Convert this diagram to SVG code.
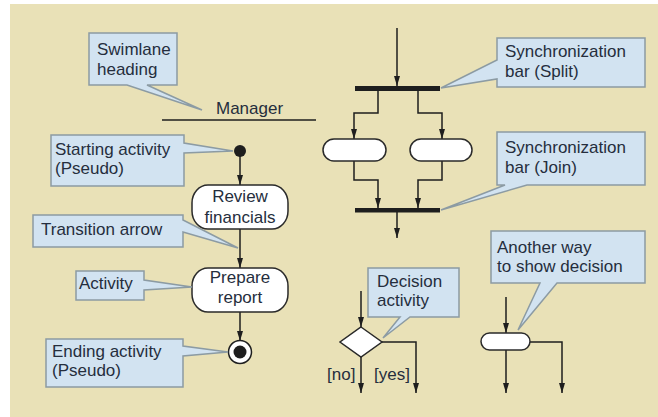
<svg xmlns="http://www.w3.org/2000/svg" width="658" height="417" viewBox="0 0 658 417">
<style>
.bg{fill:#E9E1B7}
.co{fill:#D2E3F1;stroke:#8C9BA3;stroke-width:1.5;stroke-linejoin:miter}
.t{font-family:"Liberation Sans",Arial,sans-serif;font-size:17px;fill:#252E3D}
.tc{text-anchor:middle}
.nd{fill:#FFFFFF;stroke:#2A2A2A;stroke-width:1.5}
.ln{fill:none;stroke:#1E1E1E;stroke-width:1.5}
.bar{fill:#1E1E1E}
</style>
<defs>
<marker id="arr" viewBox="0 0 10 6" refX="10" refY="3" markerWidth="10" markerHeight="6" orient="auto" markerUnits="userSpaceOnUse">
<path d="M0,0 L10,3 L0,6 Z" fill="#1E1E1E"/>
</marker>
</defs>
<rect x="0" y="0" width="658" height="417" fill="#FFFFFF"/>
<rect class="bg" x="10" y="4" width="648" height="413"/>

<g id="swimlane">
<text class="t" x="216" y="114">Manager</text>
<line x1="162" y1="120" x2="316" y2="120" stroke="#1E1E1E" stroke-width="1.5"/>
</g>

<g id="connectors">
<line class="ln" x1="240" y1="156" x2="240" y2="185" marker-end="url(#arr)"/>
<line class="ln" x1="240" y1="229" x2="240" y2="268" marker-end="url(#arr)"/>
<line class="ln" x1="240" y1="312" x2="240" y2="341" marker-end="url(#arr)"/>
<line class="ln" x1="397" y1="28" x2="397" y2="86" marker-end="url(#arr)"/>
<polyline class="ln" points="378,90 378,113 354,113 354,139" marker-end="url(#arr)"/>
<polyline class="ln" points="418,90 418,113 442,113 442,139" marker-end="url(#arr)"/>
<polyline class="ln" points="354,161 354,180 378,180 378,208" marker-end="url(#arr)"/>
<polyline class="ln" points="442,161 442,180 418,180 418,208" marker-end="url(#arr)"/>
<line class="ln" x1="397" y1="212" x2="397" y2="238" marker-end="url(#arr)"/>
<line class="ln" x1="361" y1="291" x2="361" y2="327" marker-end="url(#arr)"/>
<line class="ln" x1="361" y1="357" x2="361" y2="393" marker-end="url(#arr)"/>
<polyline class="ln" points="382,342 416,342 416,393" marker-end="url(#arr)"/>
<line class="ln" x1="506" y1="297" x2="506" y2="333" marker-end="url(#arr)"/>
<line class="ln" x1="506" y1="350" x2="506" y2="393" marker-end="url(#arr)"/>
<polyline class="ln" points="530,342 562,342 562,393" marker-end="url(#arr)"/>
</g>

<g id="start"><circle cx="240" cy="151" r="6" fill="#1E1E1E"/></g>
<g id="review">
<rect class="nd" x="192" y="185" width="96" height="44" rx="16" ry="18"/>
<text class="t tc" x="240" y="202">Review</text>
<text class="t tc" x="240" y="223">financials</text>
</g>
<g id="prepare">
<rect class="nd" x="192" y="268" width="96" height="44" rx="16" ry="18"/>
<text class="t tc" x="240" y="283">Prepare</text>
<text class="t tc" x="240" y="303">report</text>
</g>
<g id="end">
<circle cx="240" cy="352" r="11.5" fill="#FFFFFF" stroke="#1E1E1E" stroke-width="1.5"/>
<circle cx="240" cy="352" r="6.5" fill="#1E1E1E"/>
</g>
<g id="splitbar"><rect class="bar" x="355" y="86" width="85" height="5"/></g>
<g id="pillLeft"><rect class="nd" x="323" y="139" width="63" height="22" rx="11"/></g>
<g id="pillRight"><rect class="nd" x="410" y="139" width="62" height="22" rx="11"/></g>
<g id="joinbar"><rect class="bar" x="355" y="208" width="85" height="4.5"/></g>
<g id="decision"><polygon class="nd" points="361,327 382,342 361,357 340,342"/></g>
<g id="pillDecision"><rect class="nd" x="481" y="333" width="49" height="17" rx="8.5"/></g>
<g id="labels">
<text class="t" x="327" y="380">[no]</text>
<text class="t" x="374" y="380">[yes]</text>
</g>

<g id="callout-swimlane">
<path class="co" d="M89,33 H177 V85 H147 L202,110 L127,85 H89 Z"/>
<text class="t" x="97" y="55">Swimlane</text>
<text class="t" x="97" y="75">heading</text>
</g>
<g id="callout-start">
<path class="co" d="M51,135 H184 V143 L233,151 L184,153 V186 H51 Z"/>
<text class="t" x="55" y="155">Starting activity</text>
<text class="t" x="55" y="174">(Pseudo)</text>
</g>
<g id="callout-transition">
<path class="co" d="M33,215 H183 V220 L238,248 L183,232 V247 H33 Z"/>
<text class="t" x="41" y="235">Transition arrow</text>
</g>
<g id="callout-activity">
<path class="co" d="M76,271 H144 V280 L192,287 L144,290 V300 H76 Z"/>
<text class="t" x="79" y="289">Activity</text>
</g>
<g id="callout-end">
<path class="co" d="M46,339 H183 V346 L228,352 L183,356 V387 H46 Z"/>
<text class="t" x="52" y="357">Ending activity</text>
<text class="t" x="52" y="376">(Pseudo)</text>
</g>
<g id="callout-split">
<path class="co" d="M497,38 H645 V87 H497 V79 L441,88 L497,60 Z"/>
<text class="t" x="505" y="57">Synchronization</text>
<text class="t" x="505" y="77">bar (Split)</text>
</g>
<g id="callout-join">
<path class="co" d="M497,132 H645 V185 H527 L441,210 L505,185 H497 Z"/>
<text class="t" x="505" y="153">Synchronization</text>
<text class="t" x="505" y="173">bar (Join)</text>
</g>
<g id="callout-decision">
<path class="co" d="M368,268 H459 V317 H410 L383,338 L400,317 H368 Z"/>
<text class="t" x="377" y="287">Decision</text>
<text class="t" x="377" y="306">activity</text>
</g>
<g id="callout-another">
<path class="co" d="M491,231 H645 V283 H557 L518,330 L540,283 H491 Z"/>
<text class="t" x="497" y="253">Another way</text>
<text class="t" x="497" y="272">to show decision</text>
</g>
</svg>
